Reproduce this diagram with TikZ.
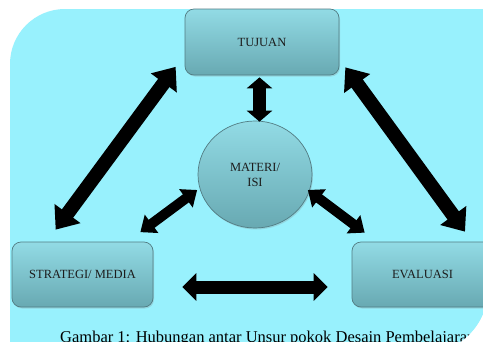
\documentclass[tikz,border=0pt]{standalone}
\usepackage{fontspec}
\setmainfont{Liberation Serif}
\usetikzlibrary{arrows.meta,calc,shadows,shapes.geometric}
\definecolor{bgcyan}{RGB}{152,241,253}
\definecolor{boxtop}{RGB}{146,219,229}
\definecolor{boxbot}{RGB}{104,169,178}
\definecolor{boxline}{RGB}{82,124,131}
\definecolor{txt}{RGB}{28,28,28}
\tikzset{
  unitbox/.style={draw=boxline, line width=0.7pt, rounded corners=9pt,
    top color=boxtop, bottom color=boxbot,
    drop shadow={opacity=0.25, shadow xshift=1pt, shadow yshift=-1.5pt},
    text=txt, font=\fontsize{12.5}{15}\selectfont, inner sep=0pt, align=center},
  bigarr/.style={line width=14pt, {Triangle[width=31pt,length=20pt]}-{Triangle[width=31pt,length=20pt]}},
  midarr/.style={line width=13pt, {Triangle[width=27pt,length=14pt]}-{Triangle[width=27pt,length=14pt]}},
  vertarr/.style={line width=12.5pt, {Triangle[width=25pt,length=11pt]}-{Triangle[width=25pt,length=11pt]}},
  smallarr/.style={line width=10pt, {Triangle[width=22pt,length=14pt]}-{Triangle[width=22pt,length=14pt]}}
}
\begin{document}
\begin{tikzpicture}[x=1pt,y=-1pt]
  \useasboundingbox (0,0) rectangle (483,341);
  \clip (0,0) rectangle (483,341);
  \fill[white] (0,0) rectangle (483,341);
  % background panel, rounded top-left and bottom-right
  \fill[bgcyan] (10,64) .. controls (10,33.6) and (34.6,9) .. (65,9)
     -- (488,9) -- (488,290) .. controls (488,324.8) and (459.8,353) .. (425,353)
     -- (10,353) -- cycle;

  % nodes
  \node[unitbox, minimum width=154pt, minimum height=66pt] (tuj) at (262,42) {TUJUAN};
  \node[unitbox, minimum width=141pt, minimum height=65pt] (str) at (82.5,274.5) {STRATEGI/ MEDIA};
  \node[unitbox, minimum width=141pt, minimum height=65pt] (eva) at (422.5,274.5) {EVALUASI};
  \node[unitbox, ellipse, rounded corners=0pt, minimum width=114pt, minimum height=107pt] (mat) at (255,174.5) {MATERI/\\ISI};

  % arrow end points
  \coordinate (vt) at ($(tuj.south)+(-2.5,2)$);
  \coordinate (vb) at ($(mat.north)+(4.5,1)$);
  \coordinate (l1) at ($(tuj.south west)+(-9,-8.5)$);
  \coordinate (l2) at ($(str.north west)+(44,-12)$);
  \coordinate (r1) at ($(tuj.south east)+(6,-8)$);
  \coordinate (r2) at ($(eva.north)+(42.5,-10)$);
  \coordinate (s1) at ($(mat.west)+(-0.5,15.5)$);
  \coordinate (s2) at ($(str.north east)+(-13,-9.5)$);
  \coordinate (t1) at ($(mat.east)+(-4.5,15.5)$);
  \coordinate (t2) at ($(eva.north west)+(13,-9)$);
  \coordinate (h1) at ($(str.east)+(29,12.5)$);
  \coordinate (h2) at ($(eva.west)+(-24,12.5)$);

  % connectors
  \draw[vertarr] (vt) -- (vb);
  \draw[bigarr] (l1) -- (l2);
  \draw[bigarr] (r1) -- (r2);
  \draw[smallarr] (s1) -- (s2);
  \draw[smallarr] (t1) -- (t2);
  \draw[midarr] (h1) -- (h2);

  % white cut of the bottom-right corner over caption
  \node[anchor=base west, inner sep=0pt, text=black, font=\fontsize{16.5}{18}\selectfont] (cap) at (60,342)
     {Gambar 1: Hubungan antar Unsur pokok Desain Pembelajaran};
  \fill[white] (488,290) .. controls (488,324.8) and (459.8,353) .. (425,353) -- (500,353) -- (500,290) -- cycle;
\end{tikzpicture}
\end{document}
